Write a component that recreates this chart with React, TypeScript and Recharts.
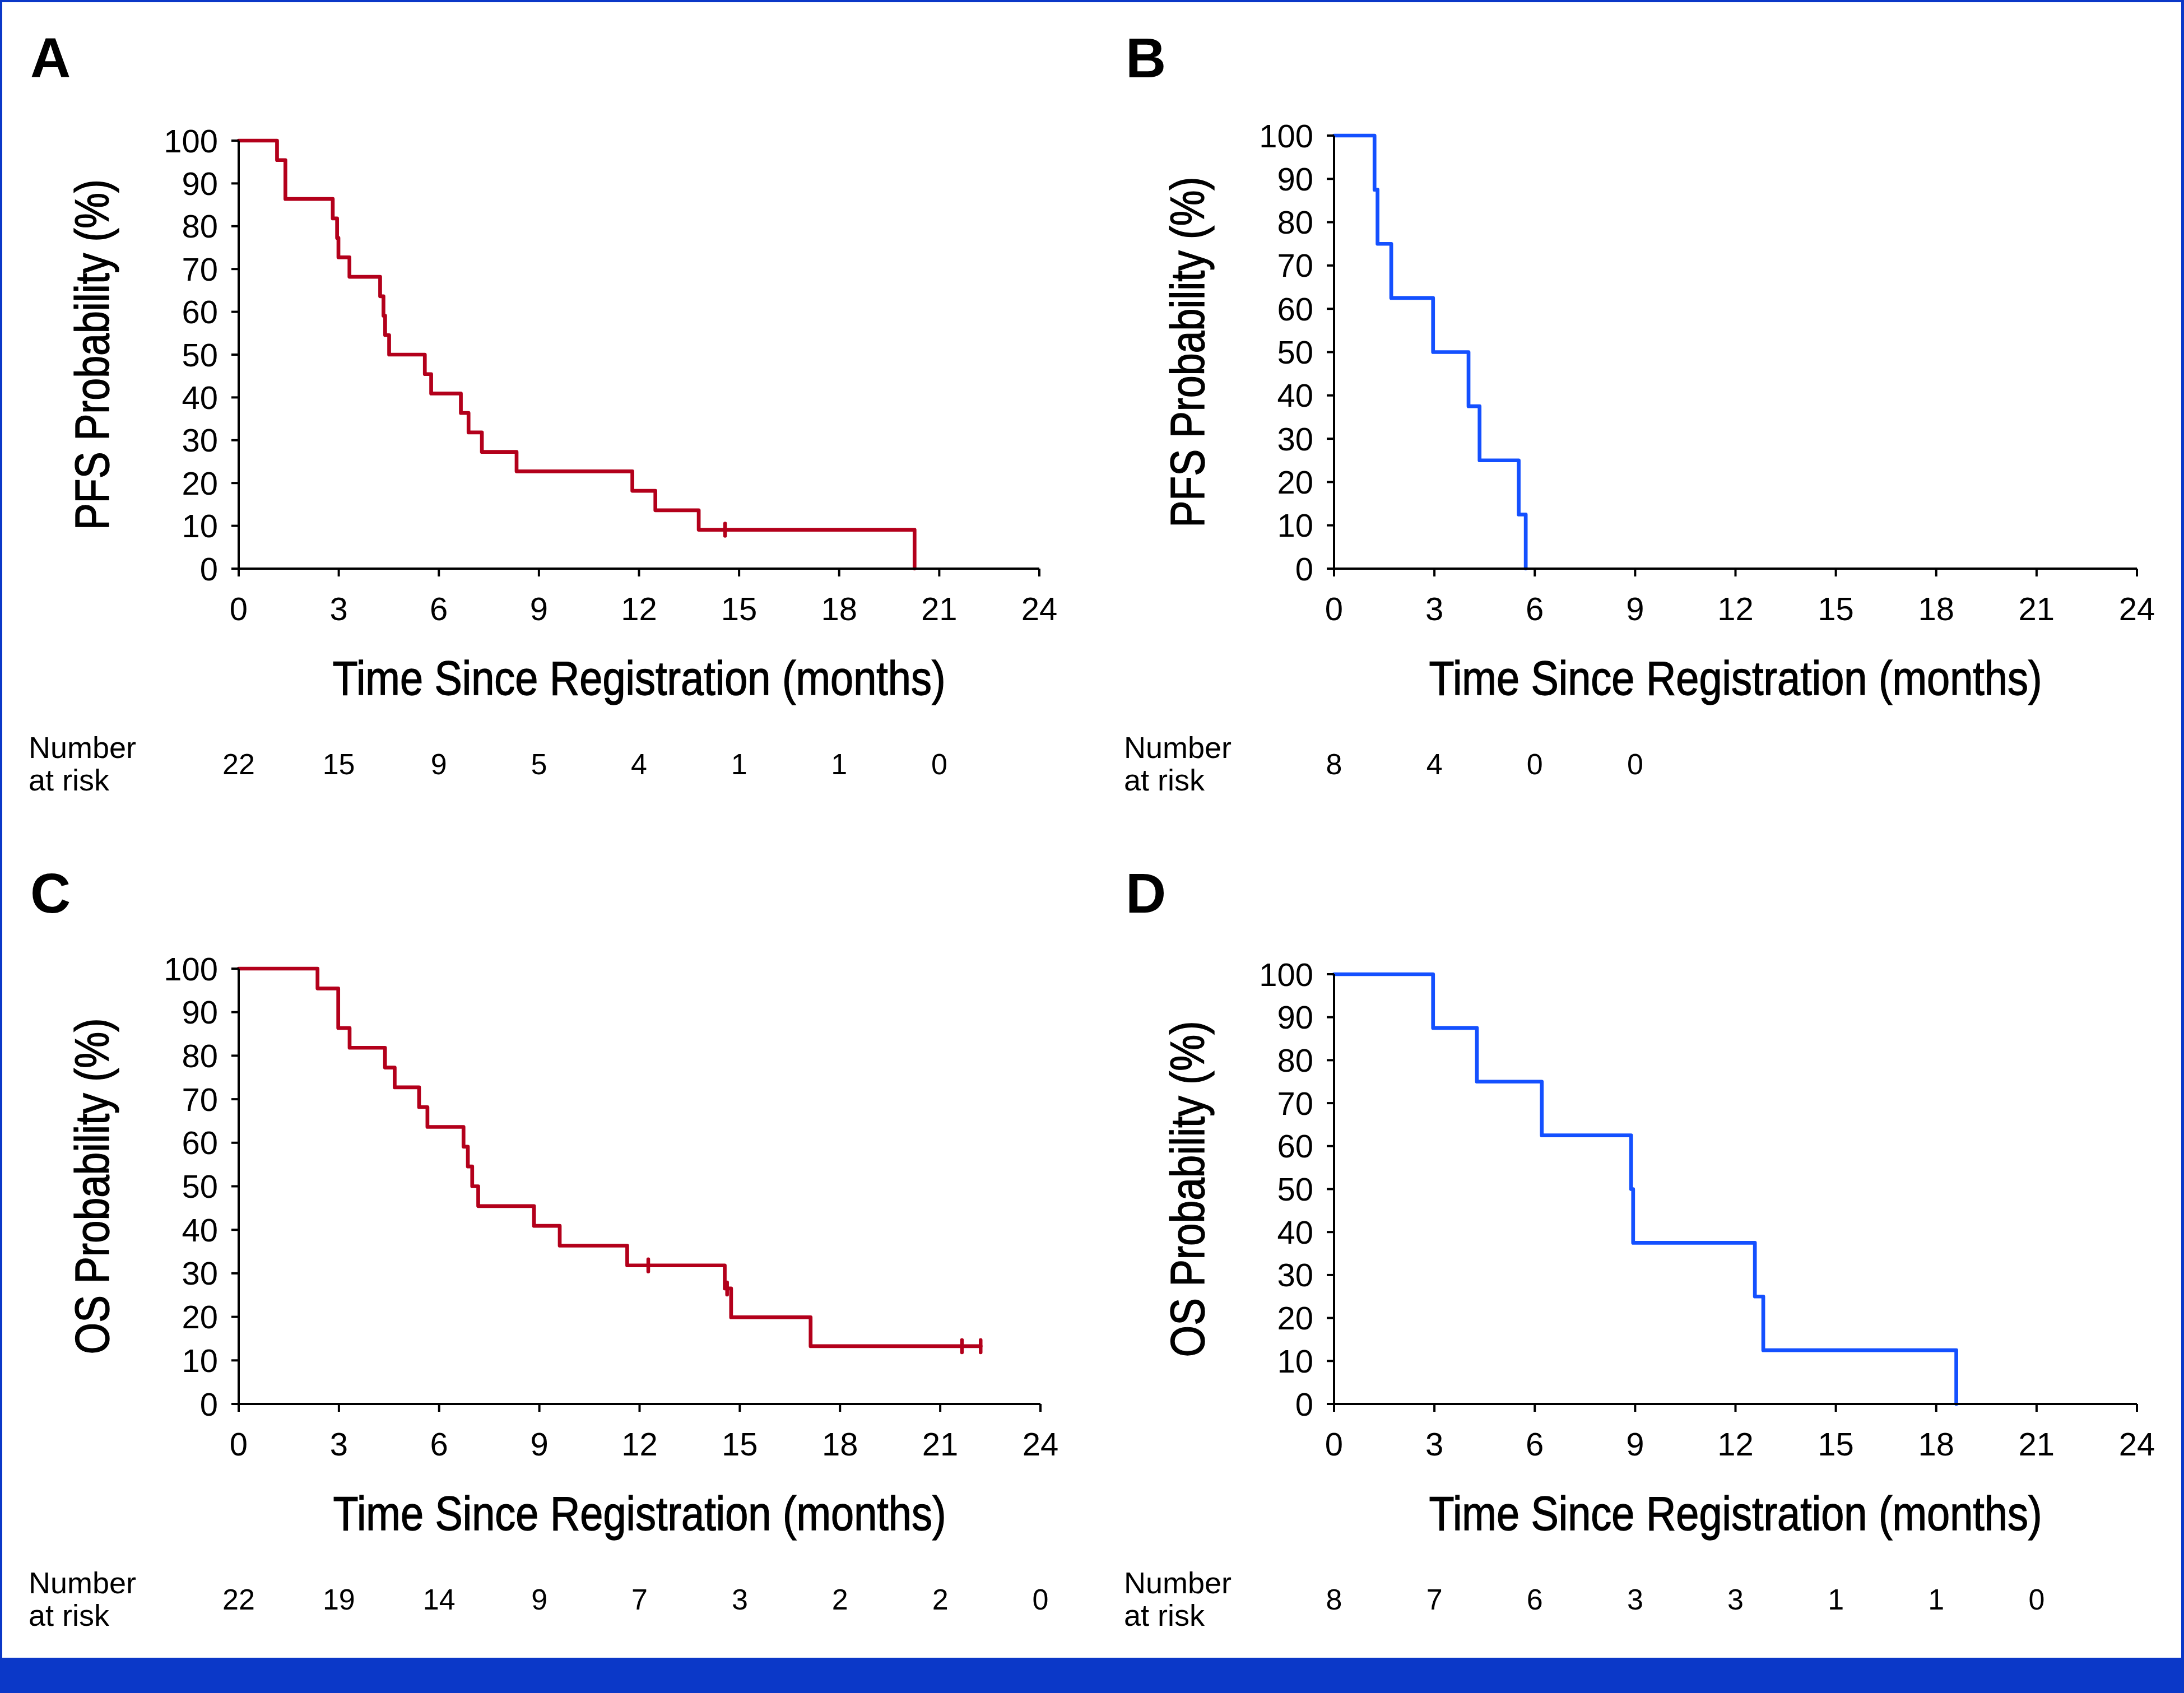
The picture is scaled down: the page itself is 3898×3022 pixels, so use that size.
import React from "react";
import { LineChart, Line, XAxis, YAxis } from "recharts";

const RED = "#B3001B";
const BLUE = "#1450FF";
const FRAME = "#0B38C8";
const FONT = "'Liberation Sans', Arial, sans-serif";

const monthTicks = [0, 3, 6, 9, 12, 15, 18, 21, 24];
const pctTicks = [0, 10, 20, 30, 40, 50, 60, 70, 80, 90, 100];

// Kaplan-Meier steps: t = months, s = survival %
const pfsA = [
  { t: 0, s: 100 }, { t: 1.15, s: 95.45 }, { t: 1.4, s: 86.36 }, { t: 2.82, s: 81.82 },
  { t: 2.95, s: 77.27 }, { t: 2.99, s: 72.73 }, { t: 3.32, s: 68.18 }, { t: 4.24, s: 63.64 },
  { t: 4.34, s: 59.09 }, { t: 4.39, s: 54.55 }, { t: 4.51, s: 50 }, { t: 5.58, s: 45.45 },
  { t: 5.77, s: 40.91 }, { t: 6.66, s: 36.36 }, { t: 6.89, s: 31.82 }, { t: 7.29, s: 27.27 },
  { t: 8.33, s: 22.73 }, { t: 11.8, s: 18.18 }, { t: 12.49, s: 13.64 }, { t: 13.79, s: 9.09 },
  { t: 20.26, s: 0 },
];
const pfsACensored = [{ t: 14.58, s: 9.09 }];
const pfsARisk = [22, 15, 9, 5, 4, 1, 1, 0];

const pfsB = [
  { t: 0, s: 100 }, { t: 1.21, s: 87.5 }, { t: 1.3, s: 75 }, { t: 1.71, s: 62.5 },
  { t: 2.96, s: 50 }, { t: 4.02, s: 37.5 }, { t: 4.35, s: 25 }, { t: 5.52, s: 12.5 },
  { t: 5.73, s: 0 },
];
const pfsBCensored: { t: number; s: number }[] = [];
const pfsBRisk = [8, 4, 0, 0];

const osC = [
  { t: 0, s: 100 }, { t: 2.36, s: 95.45 }, { t: 2.98, s: 86.36 }, { t: 3.32, s: 81.82 },
  { t: 4.38, s: 77.27 }, { t: 4.67, s: 72.73 }, { t: 5.4, s: 68.18 }, { t: 5.65, s: 63.64 },
  { t: 6.73, s: 59.09 }, { t: 6.86, s: 54.55 }, { t: 6.99, s: 50 }, { t: 7.17, s: 45.45 },
  { t: 8.84, s: 40.91 }, { t: 9.61, s: 36.36 }, { t: 11.63, s: 31.82 }, { t: 14.55, s: 26.52 },
  { t: 14.74, s: 19.89 }, { t: 17.12, s: 13.26 }, { t: 22.21, s: 13.26 },
];
const osCCensored = [
  { t: 12.26, s: 31.82 }, { t: 14.62, s: 26.52 }, { t: 21.65, s: 13.26 }, { t: 22.21, s: 13.26 },
];
const osCRisk = [22, 19, 14, 9, 7, 3, 2, 2, 0];

const osD = [
  { t: 0, s: 100 }, { t: 2.96, s: 87.5 }, { t: 4.27, s: 75 }, { t: 6.21, s: 62.5 },
  { t: 8.88, s: 50 }, { t: 8.94, s: 37.5 }, { t: 12.58, s: 25 }, { t: 12.83, s: 12.5 },
  { t: 18.6, s: 0 },
];
const osDCensored: { t: number; s: number }[] = [];
const osDRisk = [8, 7, 6, 3, 3, 1, 1, 0];

const CW = 1950;
const CH = 1490;
const PLOT_LEFT = 426;
const PLOT_BOTTOM = 1015;
const X_AXIS_H = 250;
const RISK_AXIS_H = 150;

type Pt = { t: number; s: number };

function censorMark(color: string) {
  return (p: any) => (
    <line
      key={`c-${p.index}`}
      x1={p.cx}
      x2={p.cx}
      y1={p.cy - 11}
      y2={p.cy + 11}
      stroke={color}
      strokeWidth={6.5}
      strokeLinecap="round"
    />
  );
}

// condensed titles: squeeze Liberation Sans to the narrow width of the original
function xTitle(p: any) {
  const vb = p.viewBox || {};
  return (
    <text
      x={vb.x + vb.width / 2}
      y={vb.y + 225}
      textAnchor="middle"
      fontFamily={FONT}
      fontSize={85}
      fill="#000"
      stroke="#000"
      strokeWidth={1.4}
      textLength={1094}
      lengthAdjust="spacingAndGlyphs"
    >
      Time Since Registration (months)
    </text>
  );
}

function yTitle(label: string, len: number) {
  return (p: any) => {
    const vb = p.viewBox || {};
    const cy = vb.y + vb.height / 2;
    return (
      <text
        x={0}
        y={0}
        transform={`translate(${194}, ${cy}) rotate(-90)`}
        textAnchor="middle"
        fontFamily={FONT}
        fontSize={86}
        fill="#000"
        stroke="#000"
        strokeWidth={1.4}
        textLength={len}
        lengthAdjust="spacingAndGlyphs"
      >
        {label}
      </text>
    );
  };
}

function Panel(props: {
  letter: string;
  left: number;
  top: number;
  plotTop: number;
  plotRight: number;
  yLabel: string;
  yLabelLen: number;
  curve: Pt[];
  censored: Pt[];
  risk: number[];
  color: string;
}) {
  const { letter, left, top, plotTop, plotRight, yLabel, yLabelLen, curve, censored, risk, color } = props;
  const riskTicks = monthTicks.slice(0, risk.length);
  const riskRows = risk.map((n, i) => ({ t: monthTicks[i], n }));
  return (
    <div style={{ position: "absolute", left, top, width: CW, height: CH }}>
      <LineChart
        width={CW}
        height={CH}
        margin={{
          top: plotTop,
          right: CW - plotRight,
          left: 0,
          bottom: CH - PLOT_BOTTOM - X_AXIS_H - RISK_AXIS_H,
        }}
      >
        <XAxis
          dataKey="t"
          type="number"
          domain={[0, 24]}
          ticks={monthTicks}
          interval={0}
          height={X_AXIS_H}
          axisLine={{ stroke: "#000", strokeWidth: 4 }}
          tickLine={{ stroke: "#000", strokeWidth: 4 }}
          tickSize={14}
          tickMargin={37}
          tick={{ fill: "#000", fontSize: 58, fontFamily: FONT }}
          label={{ content: xTitle }}
        />
        <XAxis
          xAxisId="risk"
          dataKey="t"
          type="number"
          domain={[0, 24]}
          ticks={riskTicks}
          interval={0}
          height={RISK_AXIS_H}
          axisLine={false}
          tickLine={false}
          tickSize={0}
          tickMargin={80}
          tickFormatter={(_v: number, i: number) => String(risk[i])}
          tick={{ fill: "#000", fontSize: 52, fontFamily: FONT }}
        />
        <YAxis
          type="number"
          domain={[0, 100]}
          ticks={pctTicks}
          interval={0}
          width={PLOT_LEFT}
          axisLine={{ stroke: "#000", strokeWidth: 4 }}
          tickLine={{ stroke: "#000", strokeWidth: 4 }}
          tickSize={13}
          tickMargin={24}
          tick={{ fill: "#000", fontSize: 58, fontFamily: FONT }}
          label={{ content: yTitle(yLabel, yLabelLen) }}
        />
        <Line
          data={curve}
          dataKey="s"
          type="stepAfter"
          stroke={color}
          strokeWidth={6.7}
          strokeLinejoin="round"
          strokeLinecap="round"
          dot={false}
          activeDot={false}
          isAnimationActive={false}
        />
        {censored.length > 0 && (
          <Line
            data={censored}
            dataKey="s"
            stroke="none"
            dot={censorMark(color)}
            activeDot={false}
            isAnimationActive={false}
          />
        )}
        {/* carries the number-at-risk table on its own axis */}
        <Line
          xAxisId="risk"
          data={riskRows}
          dataKey="n"
          stroke="none"
          dot={false}
          activeDot={false}
          isAnimationActive={false}
        />
      </LineChart>
      <div
        style={{
          position: "absolute",
          left: 54,
          top: 53,
          fontFamily: FONT,
          fontWeight: 700,
          fontSize: 100,
          lineHeight: "100px",
          color: "#000",
        }}
      >
        {letter}
      </div>
      <div
        style={{
          position: "absolute",
          left: 51,
          top: 1305,
          fontFamily: FONT,
          fontSize: 54,
          lineHeight: "58px",
          color: "#000",
        }}
      >
        Number
        <br />
        at risk
      </div>
    </div>
  );
}

export default function App() {
  return (
    <div style={{ position: "relative", width: 3898, height: 3022, background: "#fff", overflow: "hidden" }}>
      <style>{"body{margin:0}"}</style>
      <Panel letter="A" left={0} top={0} plotTop={251} plotRight={1855} yLabel="PFS Probability (%)" yLabelLen={626}
        curve={pfsA} censored={pfsACensored} risk={pfsARisk} color={RED} />
      <Panel letter="B" left={1955} top={0} plotTop={242} plotRight={1859} yLabel="PFS Probability (%)" yLabelLen={626}
        curve={pfsB} censored={pfsBCensored} risk={pfsBRisk} color={BLUE} />
      <Panel letter="C" left={0} top={1491} plotTop={238} plotRight={1857} yLabel="OS Probability (%)" yLabelLen={600}
        curve={osC} censored={osCCensored} risk={osCRisk} color={RED} />
      <Panel letter="D" left={1955} top={1491} plotTop={248} plotRight={1859} yLabel="OS Probability (%)" yLabelLen={600}
        curve={osD} censored={osDCensored} risk={osDRisk} color={BLUE} />
      <div style={{ position: "absolute", left: 0, top: 0, width: 3898, height: 4, background: FRAME }} />
      <div style={{ position: "absolute", left: 0, top: 0, width: 4, height: 3022, background: FRAME }} />
      <div style={{ position: "absolute", left: 3893, top: 0, width: 5, height: 3022, background: FRAME }} />
      <div style={{ position: "absolute", left: 0, top: 2959, width: 3898, height: 63, background: FRAME }} />
    </div>
  );
}
